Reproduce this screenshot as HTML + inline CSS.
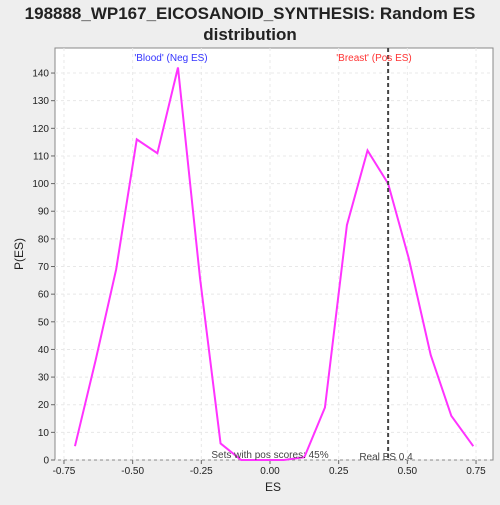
<!DOCTYPE html>
<html><head><meta charset="utf-8"><style>
body{margin:0;background:#eeeeee;font-family:"Liberation Sans",sans-serif;}
svg text{font-family:"Liberation Sans",sans-serif;}
</style></head><body>
<svg width="500" height="500">
<rect width="500" height="500" fill="#eeeeee"/>
<text x="250" y="19" text-anchor="middle" font-size="17" font-weight="bold" fill="#222">198888_WP167_EICOSANOID_SYNTHESIS: Random ES</text>
<text x="250" y="40" text-anchor="middle" font-size="17" font-weight="bold" fill="#222">distribution</text>
<rect x="55" y="48" width="438" height="412" fill="#fff" stroke="#888"/>
<g id="grid"></g>
<g id="axes"></g>
<polyline id="line" fill="none" stroke="#ff33ff" stroke-width="2"/>
<line id="real" y1="48" y2="460" stroke="#444" stroke-width="2" stroke-dasharray="4,3"/>
<text x="171" y="61" text-anchor="middle" font-size="10" fill="#3333ff">'Blood' (Neg ES)</text>
<text x="374" y="61" text-anchor="middle" font-size="10" fill="#ff3333">'Breast' (Pos ES)</text>
<text x="270" y="458" text-anchor="middle" font-size="10" fill="#444">Sets with pos scores: 45%</text>
<text x="386" y="460" text-anchor="middle" font-size="10" fill="#444">Real ES 0.4</text>
<text x="273" y="491" text-anchor="middle" font-size="12" fill="#222">ES</text>
<text x="23" y="254" text-anchor="middle" font-size="12" fill="#222" transform="rotate(-90 23 254)">P(ES)</text>
</svg>
<script>
const esValues=[-0.71,-0.635,-0.56,-0.485,-0.41,-0.335,-0.255,-0.18,-0.105,-0.03,0.05,0.125,0.2,0.28,0.355,0.43,0.505,0.585,0.66,0.74];
const probValues=[5,36,69,116,111,142,66,6,0,0,0,1,19,85,112,100,73,38,16,5];
const xTicks=[-0.75,-0.5,-0.25,0,0.25,0.5,0.75];
const xTickLabels=["-0.75","-0.50","-0.25","0.00","0.25","0.50","0.75"];
const yTicks=[0,10,20,30,40,50,60,70,80,90,100,110,120,130,140];
const realES=0.43;
const X=v=>270+v*274.7, Y=v=>460-v*2.764;
const ns="http://www.w3.org/2000/svg";
const g=document.getElementById('grid'), a=document.getElementById('axes');
function mk(tag,at,parent){const e=document.createElementNS(ns,tag);for(const k in at)e.setAttribute(k,at[k]);parent.appendChild(e);return e;}
xTicks.forEach((t,i)=>{
 const l=mk('line',{x1:X(t),x2:X(t),y1:48,y2:460,stroke:'#e8e8e8','stroke-dasharray':'3,3'},g);
 
 
 const tk=mk('line',{x1:X(t),x2:X(t),y1:460,y2:464,stroke:'#666'},a);
 
 
 const tx=mk('text',{x:X(t),y:474,'text-anchor':'middle','font-size':10,fill:'#222'},a);
 tx.textContent=xTickLabels[i];
 
 
});
yTicks.forEach(t=>{
 const l=mk('line',{x1:55,x2:493,y1:Y(t),y2:Y(t),stroke:'#e8e8e8','stroke-dasharray':'3,3'},g);
 
 
 const tk=mk('line',{x1:51,x2:55,y1:Y(t),y2:Y(t),stroke:'#666'},a);
 
 
 const tx=mk('text',{x:49,y:Y(t)+3.5,'text-anchor':'end','font-size':10,fill:'#222'},a);
 tx.textContent=t;
 
 
});
document.getElementById('line').setAttribute('points',esValues.map((v,i)=>X(v)+','+Y(probValues[i])).join(' '));
const r=document.getElementById('real');r.setAttribute('x1',X(realES));r.setAttribute('x2',X(realES));
</script>
</body></html>
